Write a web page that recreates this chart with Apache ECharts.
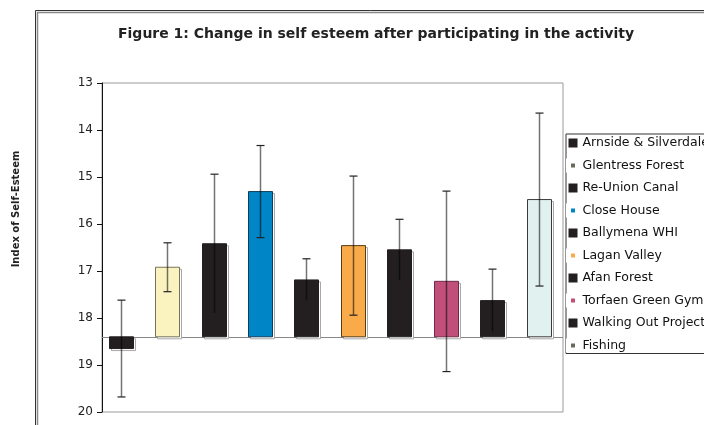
<!DOCTYPE html>
<html>
<head>
<meta charset="utf-8">
<script src="https://cdn.jsdelivr.net/npm/echarts@6/dist/echarts.min.js"></script>
<style>
  html, body { margin: 0; padding: 0; background: #fff; }
  #chart { width: 704px; height: 425px; }
</style>
</head>
<body>
<div id="chart"></div>
<script>
// the source picture is stretched a little wide, DejaVu Sans gets the widths closer
const FONT = '"DejaVu Sans", "Liberation Sans", Arial, sans-serif';

const sites = [
  'Arnside & Silverdale', 'Glentress Forest', 'Re-Union Canal', 'Close House',
  'Ballymena WHI', 'Lagan Valley', 'Afan Forest', 'Torfaen Green Gym',
  'Walking Out Project', 'Fishing'
];
// mean change in index of self-esteem (axis is reversed) and error half-width
const means = [18.65, 16.92, 16.42, 15.31, 17.19, 16.46, 16.55, 17.22, 17.63, 15.48];
const errs = [1.03, 0.52, 1.48, 0.98, 0.45, 1.48, 0.65, 1.92, 0.67, 1.84];
const BASE = 18.4;
const yTicks = [13, 14, 15, 16, 17, 18, 19, 20];

const fills = ['#231f20', '#faf3c0', '#231f20', '#0086c6', '#231f20',
  '#faab49', '#231f20', '#c0507a', '#231f20', '#e1f1ef'];
const borders = ['#231f20', '#77725a', '#231f20', '#123b58', '#231f20',
  '#5a3a12', '#231f20', '#6e2a46', '#231f20', '#3a3a3a'];
const smallKey = [false, true, false, true, false, true, false, true, false, true];

const BAR_W = 24;

function barRenderer(i) {
  return function (params, api) {
    const x = api.value(0);
    const v = api.value(1);
    const p0 = api.coord([x, BASE]);
    const p1 = api.coord([x, v]);
    const top = Math.min(p0[1], p1[1]);
    const h = Math.abs(p1[1] - p0[1]);
    const left = Math.round(p0[0] - BAR_W / 2) + 0.5;
    return {
      type: 'group',
      children: [
        {
          type: 'rect',
          shape: { x: left + 2, y: top + 2, width: BAR_W, height: h },
          style: { fill: '#fff', stroke: '#a8a8a8', lineWidth: 1 }
        },
        {
          type: 'rect',
          shape: { x: left, y: top, width: BAR_W, height: h },
          style: { fill: fills[i], stroke: borders[i], lineWidth: 1 }
        }
      ]
    };
  };
}

const barSeries = sites.map((name, i) => ({
  name: name,
  type: 'custom',
  renderItem: barRenderer(i),
  data: [[i, means[i]]],
  itemStyle: { color: fills[i] },
  z: 2,
  silent: true
}));

const errData = means.map((m, i) => [i, m, errs[i]]);

const errSeries = {
  name: 'err',
  type: 'custom',
  z: 5,
  silent: true,
  data: errData,
  renderItem: function (params, api) {
    const x = api.value(0), m = api.value(1), e = api.value(2);
    const hi = api.coord([x, m - e]);
    const lo = api.coord([x, m + e]);
    const cx = Math.round(hi[0]) + 0.5;
    return {
      type: 'group',
      children: [
        { type: 'line', shape: { x1: cx, y1: hi[1], x2: cx, y2: lo[1] },
          style: { stroke: 'rgba(0,0,0,0.55)', lineWidth: 1.5 } },
        { type: 'line', shape: { x1: cx - 4, y1: hi[1], x2: cx + 4, y2: hi[1] },
          style: { stroke: '#222', lineWidth: 1.2 } },
        { type: 'line', shape: { x1: cx - 4, y1: lo[1], x2: cx + 4, y2: lo[1] },
          style: { stroke: '#222', lineWidth: 1.2 } }
      ]
    };
  },
  markLine: {
    silent: true,
    symbol: 'none',
    label: { show: false },
    lineStyle: { color: '#888', type: 'solid', width: 1.2 },
    data: [{ yAxis: BASE }],
    z: 1
  }
};

const chart = echarts.init(document.getElementById('chart'), null, { renderer: 'canvas' });

chart.setOption({
  backgroundColor: '#fff',
  animation: false,
  textStyle: { fontFamily: FONT },
  title: {
    text: 'Figure 1: Change in self esteem after participating in the activity',
    left: 118,
    top: 27,
    padding: 0,
    textStyle: { fontFamily: FONT, fontSize: 14, fontWeight: 'bold', color: '#222' }
  },
  graphic: [
    { type: 'rect', shape: { x: 35.5, y: 10.5, width: 900, height: 600 },
      style: { fill: 'none', stroke: '#333', lineWidth: 1 }, z: -1 },
    { type: 'rect', shape: { x: 37.5, y: 12.5, width: 900, height: 600 },
      style: { fill: 'none', stroke: '#888', lineWidth: 1.5 }, z: -1 },
    {
      type: 'text',
      x: 16, y: 209,
      rotation: Math.PI / 2,
      style: {
        text: 'Index of Self-Esteem',
        font: 'bold 10px ' + FONT,
        fill: '#222',
        textAlign: 'center',
        textVerticalAlign: 'middle'
      }
    }
  ],
  legend: {
    orient: 'vertical',
    left: 566,
    top: 134,
    padding: [2, 40, 1, 0],
    itemGap: 8.5,
    itemWidth: 9,
    itemHeight: 9,
    borderColor: '#333',
    borderWidth: 1,
    borderRadius: 0,
    textStyle: { fontFamily: FONT, fontSize: 12.5, lineHeight: 14, color: '#111' },
    data: sites.map((n, i) => ({
      name: n,
      icon: 'rect',
      itemStyle: smallKey[i]
        ? { color: fills[i] === '#faf3c0' || fills[i] === '#e1f1ef' ? '#6a6a5a' : fills[i], borderColor: '#fff', borderWidth: 5 }
        : { color: fills[i], borderWidth: 0 }
    }))
  },
  grid: {
    left: 102, right: 141, top: 83, bottom: 13,
    show: true, borderColor: '#9a9a9a', borderWidth: 1
  },
  xAxis: {
    type: 'value', min: -0.4, max: 9.52, show: false
  },
  yAxis: {
    type: 'value',
    inverse: true,
    min: yTicks[0],
    max: yTicks[yTicks.length - 1],
    interval: 1,
    axisLine: { show: true, onZero: false, lineStyle: { color: '#111', width: 1 } },
    axisTick: { show: true, inside: false, length: 5, lineStyle: { color: '#111' } },
    axisLabel: { fontFamily: FONT, fontSize: 12, color: '#222', margin: 9 },
    splitLine: { show: false }
  },
  series: barSeries.concat([errSeries])
});
</script>
</body>
</html>
